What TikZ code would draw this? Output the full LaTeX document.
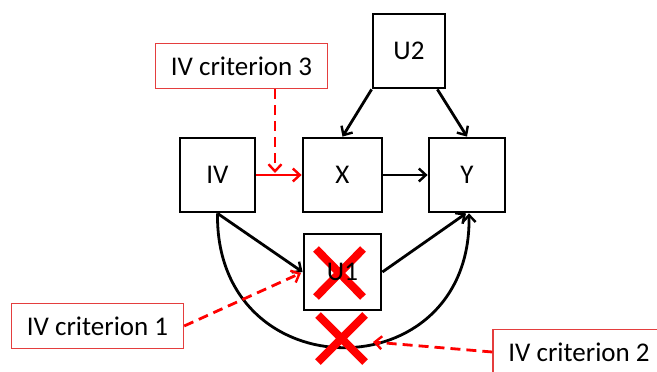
\documentclass[tikz,border=0pt]{standalone}
\usepackage{fontspec}
\setmainfont{Carlito}
\usetikzlibrary{arrows.meta,calc}
\definecolor{crit}{RGB}{228,62,62}
\definecolor{mark}{RGB}{255,0,0}
\begin{document}
\begin{tikzpicture}[x=1pt,y=-1pt,
  var/.style={draw=black,line width=2.8pt,inner sep=0pt,font=\fontsize{27}{27}\selectfont},
  critbox/.style={draw=crit,line width=1.4pt,fill=white,inner sep=0pt,minimum width=172pt,minimum height=45pt,font=\fontsize{27}{27}\selectfont},
  link/.style={line width=2.8pt,-{Straight Barb[length=7pt,width=13pt,line width=2.4pt]}},
  redlink/.style={link,draw=mark},
  critlink/.style={redlink,dash pattern=on 10pt off 6pt},
  cross/.style={draw=mark,line width=8pt}]
\useasboundingbox (0,0) rectangle (657,372);

% the crossed-out mediator sits beneath its label
\draw[cross] (316,249) -- (363,297) (316,297) -- (363,249);

% variables
\node[var,minimum width=75pt,minimum height=74pt] (IV) at (217.5,175) {IV};
\node[var,minimum width=79pt,minimum height=74pt] (X) at (342.5,175) {X};
\node[var,minimum width=76pt,minimum height=74pt] (Y) at (467,175) {Y};
\node[var,minimum width=72pt,minimum height=74pt] (U2) at (409,51) {U2};
\node[var,minimum width=77pt,minimum height=76pt] (U1) at (342.5,272) {\raisebox{-4pt}{U1}};

% criteria labels
\node[critbox] (c3) at (241.5,66) {IV criterion 3};
\node[critbox] (c1) at (97.5,326) {IV criterion 1};
\node[critbox] (c2) at (579,352) {IV criterion 2};

% causal arrows
\draw[link] (U2.south west) -- (X.north);
\draw[link] ($(U2.south east)+(-9,0)$) -- (Y.north);
\draw[link] (X.east) -- (Y.west);
\draw[link] (IV.south) -- (U1.west);
\draw[link] (U1.east) -- ($(Y.south)+(-1,0)$);
\draw[link] (IV.south) .. controls (215,392) and (472,392) .. ($(Y.south)+(2,0)$);
\draw[redlink] (IV.east) -- (X.west);

% excluded direct path
\draw[cross] (318,315) -- (365,362) (318,362) -- (365,315);

% criteria pointers
\coordinate (t3) at (275,173);
\coordinate (t1) at (301,273);
\coordinate (t2) at (373,342);
\draw[critlink] (c3.south -| t3) -- (t3);
\draw[critlink] (c1.east) -- (t1);
\draw[critlink] (c2.west) -- (t2);
\end{tikzpicture}
\end{document}
